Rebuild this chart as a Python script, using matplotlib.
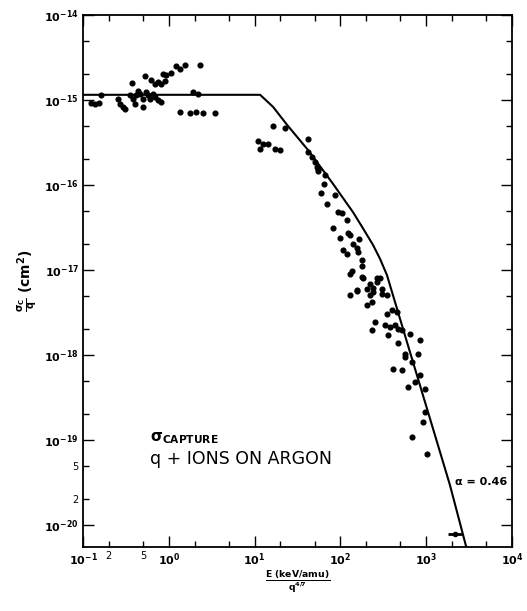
"""Charge-capture cross section for q+ ions on argon, scaled to E/q^(4/7)."""
import matplotlib.pyplot as plt

plt.rcParams["mathtext.default"] = "bf"
plt.rcParams["font.family"] = ["DejaVu Sans"]

# measured points: E/q^(4/7) (keV/amu) and sigma_c/q (cm^2)
E_DATA = [
    0.124, 0.138, 0.153, 0.162, 0.256, 0.270, 0.292, 0.309, 0.372, 0.353,
    0.383, 0.404, 0.438, 0.462, 0.415, 0.528, 0.500, 0.500, 0.542, 0.573,
    0.604, 0.621, 0.691, 0.748, 0.811, 0.903, 0.655, 0.691, 0.748, 0.811,
    0.855, 0.927, 1.06, 1.21, 1.35, 1.55, 2.31, 1.91, 2.19, 1.35,
    1.77, 2.07, 2.51, 3.45,
    16.4, 22.6, 41.9, 11.0, 12.5, 14.3, 11.6, 17.3, 19.8, 41.9,
    46.7, 50.6, 54.8,
    53.3, 55.0, 66.2, 64.4, 59.4, 86.5, 69.8, 93.8, 104, 119,
    82.1, 123, 129, 98.9, 165, 140, 156, 107, 160, 119,
    179, 179, 136, 290, 183, 267, 221, 156, 204, 240, 305,
    129, 179, 267, 129, 156, 221, 240, 305, 349, 204,
    233, 349, 399, 457, 253, 331, 378, 433, 469, 522,
    647, 233, 359, 847, 469, 566, 802, 566, 682, 410,
    522, 847, 614, 740, 968, 968, 918, 682, 1020,
]
SIGMA_DATA = [
    9.2e-16, 9.0e-16, 9.2e-16, 1.15e-15, 1.03e-15, 9.0e-16, 8.3e-16, 7.8e-16, 1.58e-15, 1.15e-15,
    1.03e-15, 9.0e-16, 1.28e-15, 1.18e-15, 1.15e-15, 1.91e-15, 1.03e-15, 8.3e-16, 1.24e-15, 1.15e-15,
    1.03e-15, 1.72e-15, 1.54e-15, 1.63e-15, 1.54e-15, 1.67e-15, 1.18e-15, 1.08e-15, 1.0e-15, 9.5e-16,
    2.02e-15, 1.97e-15, 2.08e-15, 2.51e-15, 2.32e-15, 2.58e-15, 2.58e-15, 1.24e-15, 1.18e-15, 7.2e-16,
    7.0e-16, 7.2e-16, 7.0e-16, 7.0e-16,
    4.9e-16, 4.7e-16, 3.5e-16, 3.3e-16, 3.0e-16, 3.0e-16, 2.65e-16, 2.65e-16, 2.58e-16, 2.44e-16,
    2.13e-16, 1.87e-16, 1.54e-16,
    1.63e-16, 1.46e-16, 1.31e-16, 1.03e-16, 8.1e-17, 7.6e-17, 6.0e-17, 4.8e-17, 4.7e-17, 3.9e-17,
    3.1e-17, 2.7e-17, 2.6e-17, 2.4e-17, 2.3e-17, 2.0e-17, 1.8e-17, 1.7e-17, 1.63e-17, 1.54e-17,
    1.31e-17, 1.11e-17, 9.7e-18, 8.1e-18, 8.1e-18, 7.2e-18, 6.8e-18, 5.8e-18, 6.0e-18, 6.1e-18, 6.0e-18,
    9.0e-18, 8.3e-18, 8.1e-18, 5.1e-18, 5.7e-18, 5.1e-18, 5.5e-18, 5.2e-18, 5.1e-18, 3.9e-18,
    4.2e-18, 3.0e-18, 3.4e-18, 3.2e-18, 2.44e-18, 2.25e-18, 2.13e-18, 2.25e-18, 2.0e-18, 1.97e-18,
    1.77e-18, 1.97e-18, 1.72e-18, 1.5e-18, 1.38e-18, 1.03e-18, 1.03e-18, 9.5e-19, 8.3e-19, 6.8e-19,
    6.7e-19, 5.8e-19, 4.2e-19, 4.8e-19, 4.0e-19, 2.13e-19, 1.63e-19, 1.08e-19, 6.8e-20,
]

# the lowest point, drawn with a horizontal bar
E_BAR = [2170]
SIGMA_BAR = [7.8e-21]
E_BAR_LO = [1800]
E_BAR_HI = [2600]

# scaling curve
E_CURVE = [0.1, 11.6, 16.4, 23.9, 41.9, 82.1, 140, 183, 240, 290, 349, 457, 597, 1890, 2990]
SIGMA_CURVE = [1.15e-15, 1.15e-15, 8.3e-16, 5.1e-16, 2.58e-16, 1.03e-16, 4.8e-17, 3.1e-17,
               1.97e-17, 1.35e-17, 8.7e-18, 3.5e-18, 1.42e-18, 2.96e-20, 5.1e-21]

X_MAJOR = [1e-1, 1e0, 1e1, 1e2, 1e3, 1e4]
X_MAJOR_LABELS = [r"$10^{-1}$", r"$10^{0}$", r"$10^{1}$", r"$10^{2}$", r"$10^{3}$", r"$10^{4}$"]
Y_MAJOR = [1e-14, 1e-15, 1e-16, 1e-17, 1e-18, 1e-19, 1e-20]
Y_MAJOR_LABELS = [r"$10^{-14}$", r"$10^{-15}$", r"$10^{-16}$", r"$10^{-17}$",
                  r"$10^{-18}$", r"$10^{-19}$", r"$10^{-20}$"]


def main() -> None:
    fig = plt.figure(figsize=(5.27, 6.11), dpi=100)
    ax = fig.add_axes([0.1575, 0.1047, 0.814, 0.8708])
    ax.set_xscale("log")
    ax.set_yscale("log")
    ax.set_xlim(1e-1, 1e4)
    ax.set_ylim(5.5e-21, 1e-14)

    ax.plot(E_CURVE, SIGMA_CURVE, color="black", lw=1.5)
    ax.plot(E_DATA, SIGMA_DATA, "o", color="black", ms=3.4, mec="black")
    ax.errorbar(E_BAR, SIGMA_BAR,
                xerr=[[E_BAR[0] - E_BAR_LO[0]], [E_BAR_HI[0] - E_BAR[0]]],
                fmt="o", color="black", ms=3.0, elinewidth=2.0, capsize=0)

    # ticks: decades labelled, 2 and 5 labelled only in the first decade / near 1e-20
    ax.set_xticks(X_MAJOR, X_MAJOR_LABELS)
    ax.set_yticks(Y_MAJOR, Y_MAJOR_LABELS)
    x_minor = [m * 10.0 ** d for d in range(-1, 4) for m in (2, 5)]
    x_minor_labels = ["2", "5"] + [""] * (len(x_minor) - 2)
    ax.set_xticks(x_minor, x_minor_labels, minor=True)
    y_minor = [m * 10.0 ** d for d in range(-21, -14) for m in (2, 5)]
    y_minor = [v for v in y_minor if 5.5e-21 < v < 1e-14]
    y_minor_labels = ["5" if v == 5e-20 else "2" if v == 2e-20 else "" for v in y_minor]
    ax.set_yticks(y_minor, y_minor_labels, minor=True)
    ax.tick_params(which="both", direction="in", top=True, right=True,
                   labelsize=8, width=1.0, pad=3)
    ax.tick_params(which="major", length=8)
    ax.tick_params(which="minor", length=4, labelsize=7)
    for sp in ax.spines.values():
        sp.set_linewidth(1.3)

    ax.set_xlabel(r"$\frac{E\ (keV/amu)}{q^{4/7}}$", fontsize=9.5, labelpad=1)
    ax.set_ylabel(r"$\frac{\sigma_C}{q}\ (cm^2)$", fontsize=10, labelpad=4)

    ax.text(0.156, 0.198, r"$\sigma_{CAPTURE}$", transform=ax.transAxes,
            fontsize=11)
    ax.text(0.156, 0.156, "q + IONS ON ARGON", transform=ax.transAxes,
            fontsize=12.5)
    ax.text(0.868, 0.117, "α = 0.46", transform=ax.transAxes,
            fontsize=8, fontweight="bold")

    fig.savefig("out.png", dpi=100)


if __name__ == "__main__":
    main()
